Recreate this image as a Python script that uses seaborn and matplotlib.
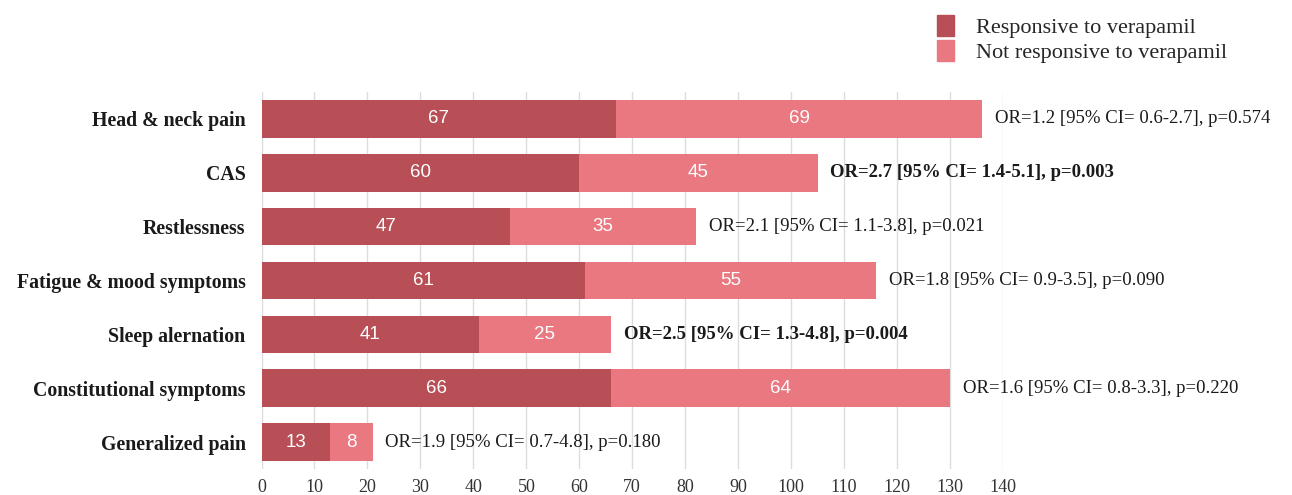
import matplotlib
matplotlib.use("Agg")
import matplotlib.pyplot as plt
import matplotlib.patches as mpatches
import seaborn as sns
import pandas as pd

symptoms = ["Head & neck pain", "CAS", "Restlessness", "Fatigue & mood symptoms",
            "Sleep alernation", "Constitutional symptoms", "Generalized pain"]
responsive = [67, 60, 47, 61, 41, 66, 13]
not_responsive = [69, 45, 35, 55, 25, 64, 8]
odds_labels = [
    "OR=1.2 [95% CI= 0.6-2.7], p=0.574",
    "OR=2.7 [95% CI= 1.4-5.1], p=0.003",
    "OR=2.1 [95% CI= 1.1-3.8], p=0.021",
    "OR=1.8 [95% CI= 0.9-3.5], p=0.090",
    "OR=2.5 [95% CI= 1.3-4.8], p=0.004",
    "OR=1.6 [95% CI= 0.8-3.3], p=0.220",
    "OR=1.9 [95% CI= 0.7-4.8], p=0.180",
]
significant = [False, True, False, False, True, False, False]
x_ticks = [0, 10, 20, 30, 40, 50, 60, 70, 80, 90, 100, 110, 120, 130, 140]

dark = "#b84f56"
light = "#e97880"
serif = ["Liberation Serif", "DejaVu Serif"]

sns.set_theme(style="white")
plt.rcParams["font.family"] = serif

df = pd.DataFrame({"symptom": symptoms, "resp": responsive, "nonresp": not_responsive})
df["total"] = df["resp"] + df["nonresp"]

fig = plt.figure(figsize=(12.92, 4.95), dpi=100)
# axes spans x = 0..140 horizontally, rows top to bottom
ax = fig.add_axes([261.5 / 1292, 1 - 469 / 495, (1003 - 261.5) / 1292, (469 - 92) / 495])

for x in x_ticks:
    ax.axvline(x, color="#dcdcdc", lw=1.0, zorder=0)

sns.barplot(data=df, x="total", y="symptom", orient="h", color=light,
            width=0.70, saturation=1, linewidth=0, edgecolor="none", ax=ax, zorder=2)
sns.barplot(data=df, x="resp", y="symptom", orient="h", color=dark,
            width=0.70, saturation=1, linewidth=0, edgecolor="none", ax=ax, zorder=3)

for i, row in df.iterrows():
    ax.text(row["resp"] / 2, i, str(row["resp"]), ha="center", va="center",
            color="white", fontsize=13.5, family="Liberation Sans", zorder=4)
    ax.text(row["resp"] + row["nonresp"] / 2, i, str(row["nonresp"]), ha="center",
            va="center", color="white", fontsize=13.5, family="Liberation Sans", zorder=4)
    ax.text(row["total"] + 2.4, i, odds_labels[i], ha="left", va="center",
            fontsize=13.5, color="#1a1a1a", clip_on=False,
            fontweight="bold" if significant[i] else "normal")

ax.set_xlim(0, 140)
ax.set_ylim(6.5, -0.5)
ax.set_xticks(x_ticks)
ax.set_xticklabels([str(t) for t in x_ticks], fontsize=13, color="#333333")
ax.set_yticks(range(len(symptoms)))
ax.set_yticklabels(symptoms, fontsize=14.3, fontweight="bold", color="#1a1a1a")
ax.tick_params(axis="x", length=0, pad=7)
ax.tick_params(axis="y", length=0, pad=11.5)
ax.set_xlabel("")
ax.set_ylabel("")
for s in ax.spines.values():
    s.set_visible(False)

handles = [mpatches.Patch(color=dark, label="Responsive to verapamil"),
           mpatches.Patch(color=light, label="Not responsive to verapamil")]
fig.legend(handles=handles, loc="upper left", bbox_to_anchor=(0.7115, 1.005),
           frameon=False, fontsize=16, handlelength=0.75, handleheight=1.05,
           handletextpad=1.0, labelspacing=0.1, borderpad=0.3)

fig.savefig("out.png", dpi=100)
